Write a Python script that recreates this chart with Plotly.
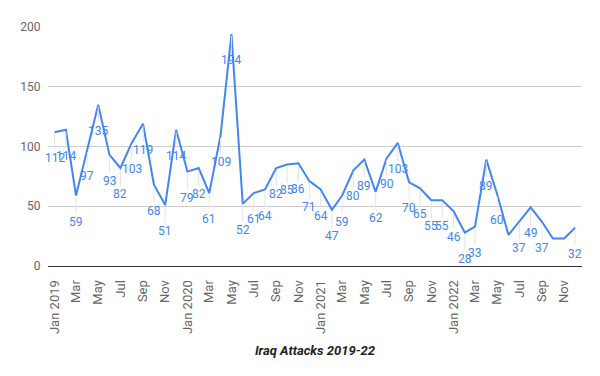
import pandas as pd
import plotly.graph_objects as go

# ---- data ----
months = pd.date_range("2019-01-01", periods=48, freq="MS")
attacks = [
    112, 114, 59, 97, 135, 93, 82, 103, 119, 68, 51, 114,   # 2019
    79, 82, 61, 109, 194, 52, 61, 64, 82, 85, 86, 71,       # 2020
    64, 47, 59, 80, 89, 62, 90, 103, 70, 65, 55, 55,        # 2021
    46, 28, 33, 89, 60, 26, 37, 49, 37, 23, 23, 32,         # 2022
]
tick_labels = [
    "Jan 2019", "Mar", "May", "Jul", "Sep", "Nov",
    "Jan 2020", "Mar", "May", "Jul", "Sep", "Nov",
    "Jan 2021", "Mar", "May", "Jul", "Sep", "Nov",
    "Jan 2022", "Mar", "May", "Jul", "Sep", "Nov",
]
y_ticks = [0, 50, 100, 150, 200]
title_text = "Iraq Attacks 2019-22"

# ---- style ----
BLUE = "#4285F4"
PAGE_PAD = 8  # default body margin of the html page
W, H = 600 - PAGE_PAD, 376 - PAGE_PAD
M_L, M_R, M_T, M_B = 45 - PAGE_PAD, 18, 27 - PAGE_PAD, 110
Y_MAX = 200
LABEL_DY = 26  # px below the point
plot_h = H - M_T - M_B

fig = go.Figure()
fig.add_trace(go.Scatter(
    x=months, y=attacks, mode="lines",
    line=dict(color=BLUE, width=2),
    hoverinfo="x+y", showlegend=False,
))

# data labels (hidden when they would overflow the plot bottom)
for d, v in zip(months, attacks):
    bottom_px = plot_h * (1 - v / Y_MAX) + LABEL_DY + 6
    if bottom_px > plot_h:
        continue
    fig.add_annotation(
        x=d, y=v, text=str(v), showarrow=True,
        arrowhead=0, arrowwidth=1, arrowcolor="#e4e4e4",
        ax=0, ay=LABEL_DY, standoff=2,
        font=dict(family="Roboto", size=12, color=BLUE),
    )

fig.update_layout(
    width=W, height=H,
    margin=dict(l=M_L, r=M_R, t=M_T, b=M_B),
    paper_bgcolor="white", plot_bgcolor="white",
    font=dict(family="Roboto", size=12, color="#666666"),
    xaxis=dict(
        range=["2018-12-14", "2022-12-20"],
        tickvals=months[::2], ticktext=tick_labels,
        tickangle=-90, showgrid=False, zeroline=False,
        ticks="outside", ticklen=8, tickcolor="rgba(0,0,0,0)",
        tickfont=dict(family="Roboto", size=13, color="#666666"),
        title=dict(text="<b><i>" + title_text + "</i></b>", standoff=12,
                   font=dict(family="Liberation Sans Narrow, Roboto", size=13, color="#222222")),
    ),
    yaxis=dict(
        range=[0, Y_MAX], tickvals=y_ticks,
        showgrid=True, gridcolor="#cccccc", gridwidth=1,
        zeroline=True, zerolinecolor="#333333", zerolinewidth=1,
        ticks="outside", ticklen=4, tickcolor="rgba(0,0,0,0)",
        tickfont=dict(family="Roboto", size=12, color="#666666"),
    ),
)

fig.write_html("out.html")
